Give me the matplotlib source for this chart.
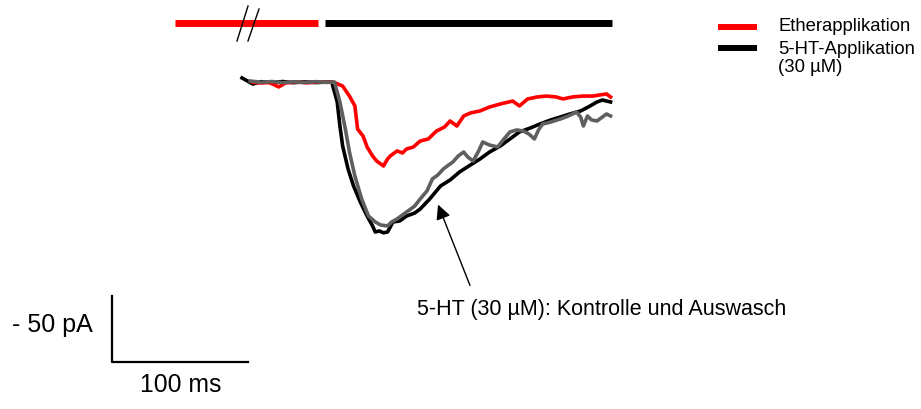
import matplotlib
matplotlib.use("Agg")
import matplotlib.pyplot as plt

plt.rcParams['font.family'] = ['Liberation Sans', 'DejaVu Sans']

# whole-cell currents (time in ms, current in pA, baseline = 0)
# 5-HT control
t_ctrl = [0, 4, 8, 14, 22, 30, 38, 46, 54, 62, 66, 70, 72, 74, 78, 82, 87, 92, 96, 98, 101, 104,
          107, 111, 116, 121, 127, 131, 138, 146, 153, 160, 168, 175, 182, 190, 197, 204, 212,
          219, 227, 234, 241, 249, 256, 261, 265, 271]
i_ctrl = [2.3, 0, -2.3, -0.5, -1.2, -0.4, -1.3, -0.6, -1.2, -0.8, -0.8, -15.9, -34.1, -49.2,
          -66.7, -79.5, -91.7, -102.3, -109.8, -114.4, -113.6, -115, -114.4, -106.8, -106,
          -102.3, -100, -97, -89.4, -79.5, -75, -68.9, -63.6, -59.1, -53.8, -49.2, -43.9,
          -38.6, -35.6, -32.6, -29.5, -27.3, -25, -22.7, -18.9, -15.9, -14.4, -15.9]

# 5-HT washout
t_wash = [6, 14, 22, 30, 38, 46, 54, 62, 68, 72, 76, 79, 83, 88, 93, 98, 102, 107, 110, 114,
          118, 124, 127, 131, 136, 140, 144, 148, 152, 155, 159, 163, 166, 170, 174, 177, 182,
          188, 192, 197, 202, 207, 211, 215, 218, 221, 227, 234, 240, 246, 249, 251, 254, 257,
          261, 265, 268, 271]
i_wash = [0, -1, -0.4, -1.3, -0.6, -1.1, -0.5, -1, -0.8, -15.9, -36.4, -53.8, -72, -89.4,
          -102.3, -106.8, -109.1, -109.8, -106.8, -104.5, -101.5, -97, -94.7, -89.4, -83.3,
          -74.2, -71.2, -66.7, -63.6, -61.4, -56.8, -53.8, -57.6, -60.6, -53, -46.2, -48.5,
          -50, -44.7, -38.6, -37.1, -37.9, -40.2, -43.9, -37.1, -32.6, -31.1, -28.8, -26.5,
          -23.5, -27.3, -34.1, -26.5, -29.5, -30.3, -27.3, -25, -26.5]

# ether application
t_ether = [8, 14, 20, 24, 27, 32, 40, 48, 56, 62, 67, 74, 79, 83, 85, 89, 92, 96, 99, 104,
           107, 109, 114, 118, 121, 126, 131, 137, 143, 149, 153, 158, 163, 168, 175, 182, 190,
           199, 204, 210, 217, 224, 231, 236, 243, 251, 258, 263, 268, 271]
i_ether = [-1, -1.5, -1.2, -3, -4.5, -1.5, -0.8, -1.4, -0.6, -1, -0.8, -3.8, -11.4, -18.9,
           -36.4, -41.7, -50, -56.8, -60.6, -64.4, -59.1, -56.8, -53, -54.5, -51.5, -50,
           -45.5, -43.9, -37.9, -34.8, -30.3, -34.1, -26.5, -24.2, -22.7, -19.7, -17.4, -15.2,
           -18.9, -13.6, -12.1, -11.4, -12.1, -13.6, -12.1, -11.4, -11.4, -10.6, -9.8, -12.1]

# application periods (ms)
ether_period = (-49, 56)
ht_period = (61, 272)

scale_t = 100   # ms
scale_i = 50    # pA

# page geometry: pixels per ms / pA and where t=0, I=0 sit
W, H = 921, 410
X0, Y0 = 242, 82
PX_MS, PX_PA = 1.36, 1.32


def tx(px):
    return (px - X0) / PX_MS


def iy(py):
    return -(py - Y0) / PX_PA


fig = plt.figure(figsize=(W / 100, H / 100), dpi=100)
ax = fig.add_axes([0, 0, 1, 1])
ax.set_xlim(tx(0), tx(W))
ax.set_ylim(iy(H), iy(0))
ax.axis('off')

ax.plot(t_ctrl, i_ctrl, color='black', lw=2.6, zorder=2)
ax.plot(t_ether, i_ether, color='#ff0000', lw=2.6, zorder=3)
ax.plot(t_wash, i_wash, color='#5f5f5f', lw=2.6, zorder=4)

# application bars with break marks
bar_y = iy(24)
ax.plot(ether_period, [bar_y, bar_y], color='#ff0000', lw=5, solid_capstyle='butt')
ax.plot(ht_period, [bar_y, bar_y], color='black', lw=5, solid_capstyle='butt')
ax.plot([tx(237), tx(248)], [iy(42), iy(7)], color='black', lw=1)
ax.plot([tx(248), tx(259)], [iy(42), iy(10)], color='black', lw=1)

# legend
ax.plot([tx(718), tx(757)], [iy(28), iy(28)], color='#ff0000', lw=4.3, solid_capstyle='butt')
ax.plot([tx(718), tx(757)], [iy(49), iy(49)], color='black', lw=4.3, solid_capstyle='butt')
ax.text(tx(778), iy(27), 'Etherapplikation', fontsize=13.3, va='center', ha='left')
ax.text(tx(778), iy(50), '5-HT-Applikation', fontsize=13.3, va='center', ha='left')
ax.text(tx(778), iy(68), '(30 µM)', fontsize=13.3, va='center', ha='left')

# annotation arrow
ax.annotate('', xy=(tx(437), iy(203)), xytext=(tx(471), iy(289)),
            arrowprops=dict(arrowstyle='-|>', color='black', lw=1, mutation_scale=22))
ax.text(tx(417), iy(310), '5-HT (30 µM): Kontrolle und Auswasch', fontsize=15.5,
        va='center', ha='left')

# scale bar
sx, sy = tx(112), iy(363)
ax.plot([sx, sx, sx + scale_t], [sy + scale_i, sy, sy], color='black', lw=1.6)
ax.text(tx(12), iy(325), '- 50 pA', fontsize=18, va='center', ha='left')
ax.text(tx(140), iy(385), '100 ms', fontsize=17.8, va='center', ha='left')

fig.savefig('out.png', dpi=100)
